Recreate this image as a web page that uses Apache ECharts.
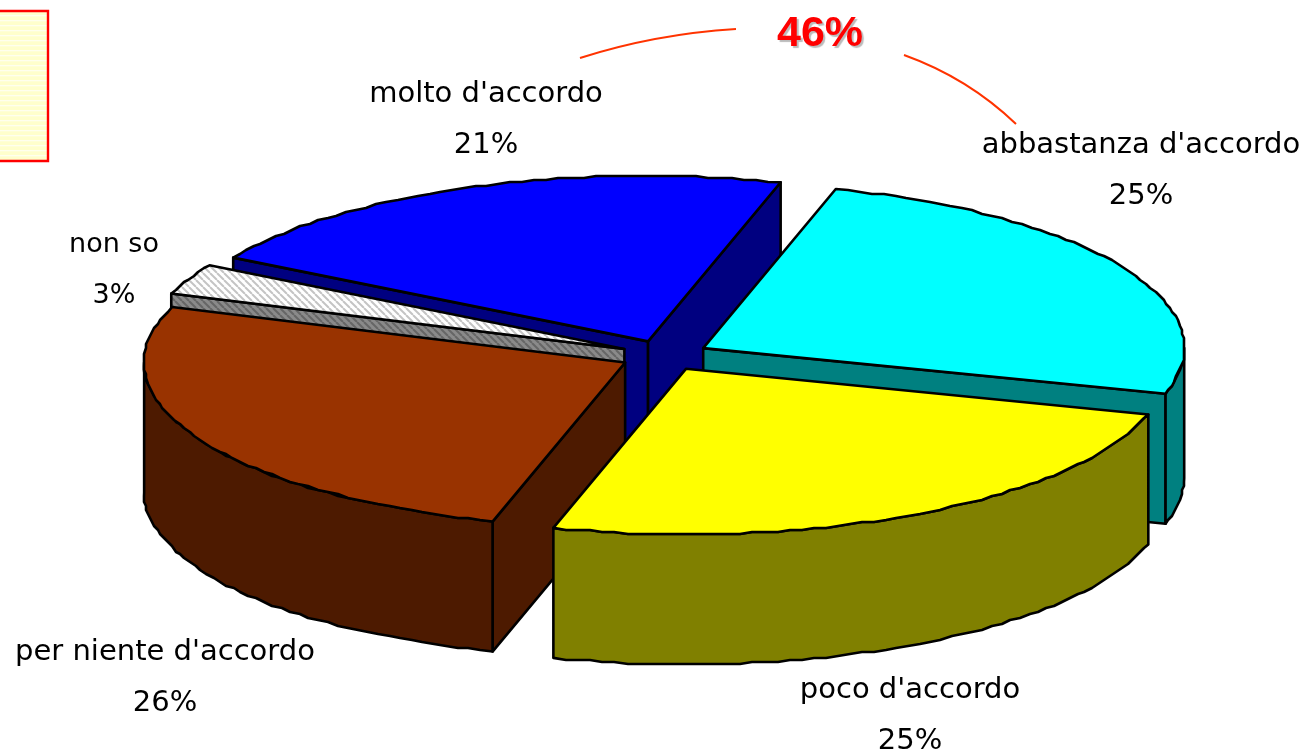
<!DOCTYPE html>
<html><head><meta charset="utf-8">
<style>html,body{margin:0;padding:0;background:#fff}#c{width:1305px;height:752px}</style>
<script src="https://cdn.jsdelivr.net/npm/echarts@6/dist/echarts.min.js"></script>
</head><body><div id="c"></div>
<script>
// data, clockwise from the first slice
const categories = ["abbastanza d'accordo", "poco d'accordo", "per niente d'accordo", "non so", "molto d'accordo"];
const values = [25, 25, 26, 3, 21];
const callout = "46%";

// styling and layout
const topColors = ['#00FFFF', '#FFFF00', '#993300', 'hatchTop', '#0000FF'];
const sideColors = ['#008080', '#808000', '#4D1A00', 'hatchSide', '#000080'];
const labelAnchors = [[1141, 171], [910, 716], [165, 678], [114, 270], [486, 120]];
const labelSizes = [29, 29, 29, 27, 29];
const paintOrder = [4, 0, 3, 2, 1];
const CX = 664.5, CY = 355.5, RX = 481, RY = 165.5, DEPTH = 130, EXPLODE = 0.092, START = 16, JAG = 2;
const FONT = '"DejaVu Sans"';

function hatch(bg, fg) {
  const n = 7, c = document.createElement('canvas');
  c.width = n; c.height = n;
  const g = c.getContext('2d');
  g.fillStyle = bg; g.fillRect(0, 0, n, n);
  g.strokeStyle = fg; g.lineWidth = 2;
  [-n, 0, n].forEach(o => { g.beginPath(); g.moveTo(o, 0); g.lineTo(o + n, n); g.stroke(); });
  return { image: c, repeat: 'repeat' };
}
function stripes() {
  const c = document.createElement('canvas');
  c.width = 4; c.height = 5;
  const g = c.getContext('2d');
  g.fillStyle = '#FFFFCC'; g.fillRect(0, 0, 4, 5);
  g.fillStyle = '#FFFFEE'; g.fillRect(0, 0, 4, 1.3);
  return { image: c, repeat: 'repeat' };
}
const fills = { hatchTop: hatch('#FFFFFF', '#C4C4C4'), hatchSide: hatch('#8A8A8A', '#666666') };
const paint = k => fills[k] || k;

const total = values.reduce((a, b) => a + b, 0);
const startAngles = [];
values.reduce((acc, v, i) => { startAngles[i] = acc; return acc + v / total * 360; }, START);

const rad = d => d * Math.PI / 180;
const snap = v => Math.round(v / JAG) * JAG;

function renderSlice(params, api) {
  const i = api.value(0);
  const a0 = startAngles[i], a1 = a0 + values[i] / total * 360, mid = (a0 + a1) / 2;
  const ax = CX + EXPLODE * RX * Math.sin(rad(mid));
  const ay = CY - EXPLODE * RY * Math.cos(rad(mid));
  const rim = a => [ax + RX * Math.sin(rad(a)), ay - RY * Math.cos(rad(a))];
  const arc = (from, to) => {
    const pts = [], n = Math.max(2, Math.ceil((to - from) / 1.5));
    for (let k = 0; k <= n; k++) {
      const p = rim(from + (to - from) * k / n);
      pts.push(k === 0 || k === n ? p : [snap(p[0]), snap(p[1])]);
    }
    return pts;
  };
  const down = p => [p[0], p[1] + DEPTH];
  const stroke = { stroke: '#000', lineWidth: 2.6, lineJoin: 'round' };
  const poly = (points, fill) => ({ type: 'polygon', shape: { points }, style: Object.assign({ fill: paint(fill) }, stroke) });
  const kids = [];
  const side = sideColors[i];
  const apex = [ax, ay], pa = rim(a0), pb = rim(a1);
  const wall = (p, q) => { if (q[0] < p[0]) kids.push(poly([p, q, down(q), down(p)], side)); };
  wall(apex, pa);
  wall(pb, apex);
  // the front of the outer wall: the part of the rim that faces the viewer
  const from = Math.max(a0, 90), to = Math.min(a1, 270);
  if (to > from) {
    const top = arc(from, to);
    kids.push(poly(top.concat(top.map(down).reverse()), side));
  }
  kids.push(poly([apex].concat(arc(a0, a1)), topColors[i]));
  kids.push({
    type: 'text', z2: 50,
    style: {
      text: categories[i] + '\n' + values[i] + '%',
      x: labelAnchors[i][0], y: labelAnchors[i][1],
      align: 'center', verticalAlign: 'middle', fill: '#000',
      font: labelSizes[i] + 'px ' + FONT, lineHeight: 51
    }
  });
  return { type: 'group', children: kids };
}

const chart = echarts.init(document.getElementById('c'), null, { renderer: 'canvas' });
chart.setOption({
  animation: false,
  backgroundColor: '#fff',
  series: [{
    type: 'custom',
    coordinateSystem: 'none',
    silent: true,
    renderItem: renderSlice,
    data: paintOrder.map(i => [i])
  }],
  graphic: [
    { type: 'rect', shape: { x: -4, y: 11, width: 52, height: 150 },
      style: { fill: stripes(), stroke: '#FF0000', lineWidth: 2.4 } },
    { type: 'bezierCurve', shape: { x1: 580, y1: 58, cpx1: 655, cpy1: 34, x2: 736, y2: 29 },
      style: { fill: 'none', stroke: '#FF3300', lineWidth: 2 } },
    { type: 'bezierCurve', shape: { x1: 904, y1: 55, cpx1: 968, cpy1: 78, x2: 1016, y2: 124 },
      style: { fill: 'none', stroke: '#FF3300', lineWidth: 2 } },
    { type: 'text', style: { text: callout, x: 820, y: 34, align: 'center', verticalAlign: 'middle',
      fill: '#FF0000', font: 'bold 43px "Liberation Sans"',
      textShadowColor: '#BBBBBB', textShadowOffsetX: 2, textShadowOffsetY: 2, textShadowBlur: 1,
      shadowColor: '#BBBBBB', shadowOffsetX: 2, shadowOffsetY: 2, shadowBlur: 1 } }
  ]
});
</script></body></html>
